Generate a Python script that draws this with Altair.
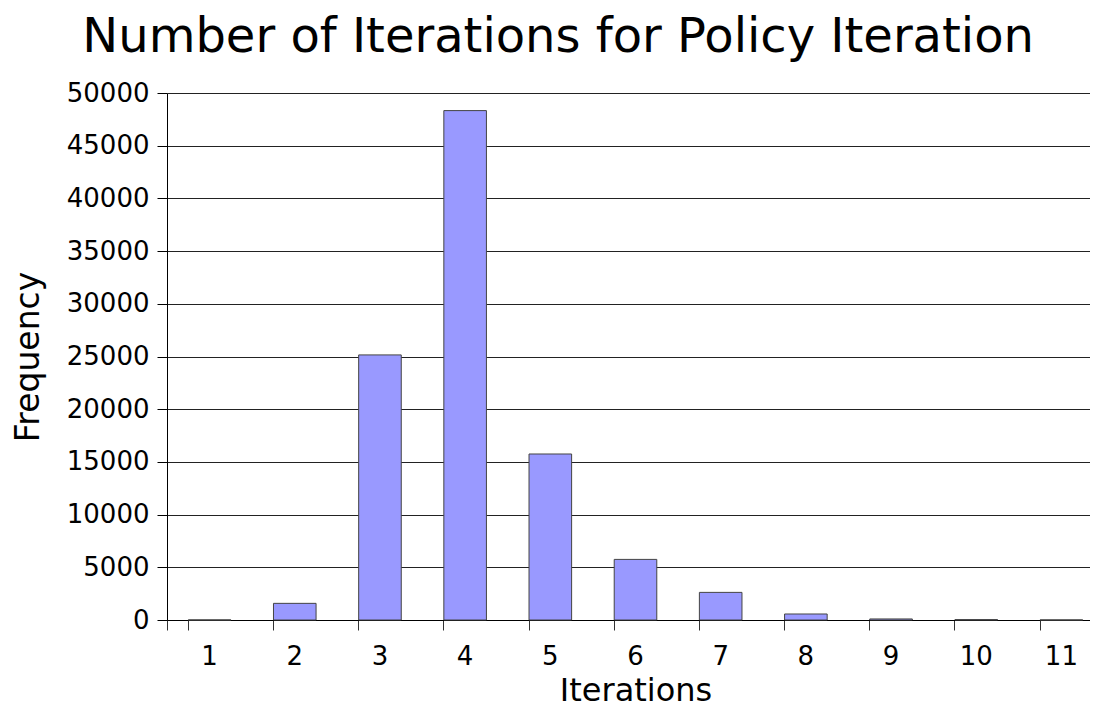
import altair as alt
import pandas as pd

iterations = ["1", "2", "3", "4", "5", "6", "7", "8", "9", "10", "11"]
frequency = [10, 1580, 25150, 48330, 15750, 5750, 2620, 570, 100, 40, 10]

df = pd.DataFrame({"Iterations": iterations, "Frequency": frequency})

FONT = "DejaVu Sans"

chart = alt.Chart(df).mark_bar(
    color="#9999ff", stroke="#444444", strokeWidth=1
).encode(
    x=alt.X("Iterations:N", sort=iterations,
            scale=alt.Scale(paddingInner=0.5, paddingOuter=0.25, range=[0, 937]),
            axis=alt.Axis(title="Iterations", labelAngle=0, bandPosition=0, tickExtra=True,
                          tickSize=10, tickColor="#333333", domainColor="#000000",
                          labelFontSize=26, labelPadding=13, labelColor="#000000",
                          titleFontSize=32, titleFontWeight="normal", titlePadding=6,
                          titleColor="#000000", grid=False)),
    y=alt.Y("Frequency:Q", scale=alt.Scale(domain=[0, 50000], nice=False),
            axis=alt.Axis(title="Frequency", values=list(range(0, 50001, 5000)), format="d",
                          tickSize=10, tickColor="#000000", domainColor="#000000",
                          labelFontSize=26, labelPadding=8, labelColor="#000000",
                          titleFontSize=33, titleFontWeight="normal", titlePadding=21,
                          titleColor="#000000", grid=True, gridColor="#222222", gridWidth=1))
).properties(
    width=923,
    height=527,
    title=alt.TitleParams("Number of Iterations for Policy Iteration", fontSize=48,
                          fontWeight="normal", font=FONT, color="#000000",
                          anchor="middle", frame="bounds", offset=18),
    autosize=alt.AutoSizeParams(type="none"),
    padding={"left": 159, "top": 85, "right": 0, "bottom": 87},
).configure(
    font=FONT
).configure_view(
    stroke=None
).configure_axis(
    labelFont=FONT, titleFont=FONT
)

chart.save("out.html", embed_options={"renderer": "svg", "actions": False})
